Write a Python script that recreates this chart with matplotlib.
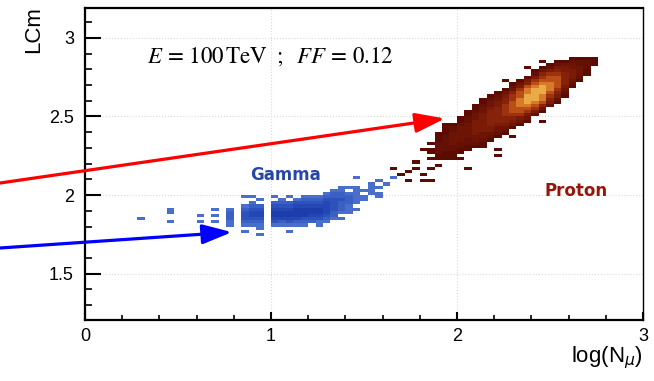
import numpy as np
import matplotlib
matplotlib.use('Agg')
import matplotlib.pyplot as plt
from matplotlib.colors import LinearSegmentedColormap
from matplotlib.ticker import MultipleLocator

# 2D histogram contents, one string per y row (top row first),
# one character per x bin, '.' = empty bin. Spaces only group the bins by four.
bin_dx, bin_dy = 0.04, 0.02

gamma_x0, gamma_ytop = 0.28, 2.12
gamma_rows = [
    ".... .... .... .... .... .... .... .1.. ..1.",
    ".... .... .... .... .... .... .... .... 1...",
    ".... .... .... .... .... .... .... ...1 .1..",
    ".... .... .... .... .... .... ...1 11.1 1...",
    ".... .... .... .... .... .... ..11 .111 ....",
    ".... .... .... .... .... .... .122 11.1 1...",
    ".... .... .... ..11 ..1. 1.11 1222 211. 1...",
    ".... .... .... .... 1..1 .122 2333 211. ....",
    ".... .... .... ...1 ..22 2333 3432 21.. ....",
    ".... .... .... ..12 2.33 3444 4432 1... ....",
    ".... 1... ..1. 1.23 3.44 4555 5432 11.. ....",
    ".... 1... .... 2.34 4.55 5555 5421 1... ....",
    ".... .... 1.1. 2.34 4.55 5554 432. .... ....",
    "1... .... .... 2.33 3.44 4433 3211 .... ....",
    ".... 1... 1.1. 1.22 2.32 3222 11.. .... ....",
    ".... .... .... 1.11 1.11 111. 1... .... ....",
    ".... .... .... .... 1... .... .... .... ....",
    ".... .... .... ..1. .... 1... .... .... ....",
    ".... .... .... .... 1... .... .... .... ....",
]

proton_x0, proton_ytop = 1.64, 2.88
proton_rows = [
    ".... .... .... .... .... .... 1111",
    ".... .... .... .... .... 1.11 2221",
    ".... .... .... .... .... .123 3221",
    ".... .... .... .... ..1. 1244 332.",
    ".... .... .... .... ...1 3454 431.",
    ".... .... .... .... ...2 5665 431.",
    ".... .... .... .... ..24 6775 42..",
    ".... .... .... ...1 .146 7775 31..",
    ".... .... .... .... 1357 8875 2...",
    ".... .... .... .... 2478 9874 1...",
    ".... .... .... ...1 3689 9863 ....",
    ".... .... .... ..13 5789 9752 ....",
    ".... .... .... .124 6799 8641 ....",
    ".... .... .... 1235 6899 852. ....",
    ".... .... .... 1345 7898 741. ....",
    ".... .... ...1 2346 7887 52.. ....",
    ".... .... ...1 3456 7776 3... ....",
    ".... .... ..12 3556 7764 1... ....",
    ".... .... ..13 4556 6642 .... ....",
    ".... .... .123 4555 543. .... ....",
    ".... .... .124 4555 431. 1... ....",
    ".... ...1 1234 4544 31.. .... ....",
    ".... ...1 2334 4433 1... .... ....",
    ".... ...1 2334 4432 .... .... ....",
    ".... ..11 3334 3321 .... .... ....",
    ".... ..12 3333 321. 1... .... ....",
    ".... ..12 3323 21.. .... .... ....",
    ".... .122 3222 1... .... .... ....",
    ".... ..22 2211 1... .... .... ....",
    ".... 1122 211. ..1. .... .... ....",
    ".... .121 11.. .... .... .... ....",
    ".... ..11 1... ..1. .... .... ....",
    ".... .111 11.. .... .... .... ....",
    "...1 .... .... .... .... .... ....",
    ".... ..1. .... .... .... .... ....",
    "1..1 .1.. ..1. .... .... .... ....",
    "..1. .... .... .... .... .... ....",
    ".1.. 1... .... .... .... .... ....",
    ".... .... .... .... .... .... ....",
    "..1. 11.. .... .... .... .... ....",
]


def grid_to_points(rows, x0, ytop):
    xs, ys, ws = [], [], []
    for i, row in enumerate(rows):
        row = row.replace(' ', '')
        for j, ch in enumerate(row):
            if ch != '.':
                xs.append(x0 + (j + 0.5) * bin_dx)
                ys.append(ytop - (i + 0.5) * bin_dy)
                ws.append(int(ch))
    return np.array(xs), np.array(ys), np.array(ws)


plt.rcParams['mathtext.fontset'] = 'stix'
plt.rcParams['font.family'] = ['Liberation Sans', 'DejaVu Sans']

fig = plt.figure(figsize=(6.54, 3.81), dpi=100)
ax = fig.add_axes([0.130, 0.160, 0.853, 0.819])

xedges = np.linspace(0, 3, 76)
yedges = np.linspace(1.2, 3.2, 101)

gamma_cmap = LinearSegmentedColormap.from_list('gam', ['#4a6ecb', '#2d52bd', '#1c3daa'])
# counts 1..9 -> dark maroon body, orange/yellow only in the core
proton_cmap = LinearSegmentedColormap.from_list(
    'pro', [(0.0, '#5c0b03'), (0.25, '#6e1405'), (0.5, '#86220a'),
            (0.625, '#9c320e'), (0.75, '#ba4d17'), (0.875, '#d67a28'),
            (1.0, '#eaaa48')])

gx, gy, gw = grid_to_points(gamma_rows, gamma_x0, gamma_ytop)
ax.hist2d(gx, gy, bins=[xedges, yedges], weights=gw, cmin=0.5,
          cmap=gamma_cmap, vmin=1, vmax=5)
px, py, pw = grid_to_points(proton_rows, proton_x0, proton_ytop)
ax.hist2d(px, py, bins=[xedges, yedges], weights=pw, cmin=0.5,
          cmap=proton_cmap, vmin=1, vmax=9)

ax.set_xlim(0, 3)
ax.set_ylim(1.205, 3.19)
ax.xaxis.set_major_locator(MultipleLocator(1))
ax.xaxis.set_minor_locator(MultipleLocator(0.2))
ax.yaxis.set_major_locator(MultipleLocator(0.5))
ax.yaxis.set_minor_locator(MultipleLocator(0.1))
ax.xaxis.set_major_formatter(plt.FuncFormatter(lambda v, p: '%g' % v))
ax.yaxis.set_major_formatter(plt.FuncFormatter(lambda v, p: '%g' % v))
ax.tick_params(axis='y', which='major', direction='in', length=11.5, width=1.5,
               labelsize=13, pad=8)
ax.tick_params(axis='y', which='minor', direction='in', length=5, width=1.2)
ax.tick_params(axis='x', which='major', direction='in', length=6, width=1.5,
               labelsize=13, pad=6)
ax.tick_params(axis='x', which='minor', direction='in', length=3.5, width=1.2)
ax.grid(True, which='major', color='#d9d9d9', ls=':', lw=0.8)
ax.set_axisbelow(True)
for side in ['left', 'bottom', 'top']:
    ax.spines[side].set_linewidth(1.6)
ax.spines['right'].set_linewidth(1.0)

ax.text(0.333, 2.879, r'$E\,=\,100\,\mathrm{TeV}\ \;;\;\ FF\,=\,0.12$',
        fontsize=16.5, ha='left', va='center')
ax.text(0.887, 2.127, 'Gamma', fontsize=12, fontweight='bold', color='#2646a8',
        family='DejaVu Sans', ha='left', va='center')
ax.text(2.473, 2.025, 'Proton', fontsize=12, fontweight='bold', color='#9a1409',
        family='DejaVu Sans', ha='left', va='center')

fig.text(34 / 654, 1 - 30 / 381, 'LCm', rotation=90, fontsize=16,
         ha='center', va='center')
fig.text(643 / 654, 1 - 358 / 381, r'log(N$_{\mu}$)', fontsize=16,
         math_fontfamily='dejavusans', ha='right', va='center')

# arrows pointing at the two populations
ax.annotate('', xy=(1.935, 2.487), xycoords='data',
            xytext=(0, 1 - 183 / 381), textcoords='figure fraction',
            arrowprops=dict(arrowstyle='-|>,head_length=1.8,head_width=0.6',
                            mutation_scale=10, color='#ff0000', lw=2.3,
                            shrinkA=0, shrinkB=0),
            annotation_clip=False, zorder=10)
ax.annotate('', xy=(0.79, 1.764), xycoords='data',
            xytext=(0, 1 - 248 / 381), textcoords='figure fraction',
            arrowprops=dict(arrowstyle='-|>,head_length=1.8,head_width=0.6',
                            mutation_scale=10, color='#0000ff', lw=2.3,
                            shrinkA=0, shrinkB=0),
            annotation_clip=False, zorder=10)

fig.savefig('out.png', dpi=100)
